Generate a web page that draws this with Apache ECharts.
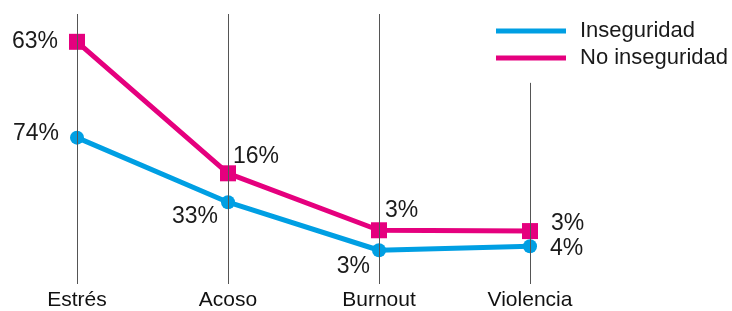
<!DOCTYPE html>
<html lang="es">
<head>
<meta charset="UTF-8">
<title>Inseguridad</title>
<script src="https://cdn.jsdelivr.net/npm/echarts@6/dist/echarts.min.js"></script>
<style>
  html, body { margin: 0; padding: 0; background: #fff; }
  #chart { width: 732px; height: 311px; }
</style>
</head>
<body>
<div id="chart"></div>
<script>
  // categorias y valores (posicion, escala 0-100)
  var categories = ['Estrés', 'Acoso', 'Burnout', 'Violencia'];
  var insegVals = [54.2, 30.3, 12.5, 14.0];
  var noInsegVals = [89.7, 41.0, 19.9, 19.6];
  // textos de las etiquetas
  var insegLabels = ['74%', '33%', '3%', '4%'];
  var noInsegLabels = ['63%', '16%', '3%', '3%'];
  // altura de las lineas verticales
  var guideTops = [100, 100, 100, 74.5];

  var insegPos = [
    { position: 'left', distance: 11, offset: [0, -4] },
    { position: 'left', distance: 3, offset: [0, 14] },
    { position: 'left', distance: 2, offset: [0, 16] },
    { position: 'right', distance: 13, offset: [0, 2] }
  ];
  var noInsegPos = [
    { position: 'left', distance: 11, offset: [0, 0] },
    { position: 'right', distance: 5, offset: [-8, -17] },
    { position: 'right', distance: 6, offset: [-8, -20] },
    { position: 'right', distance: 13, offset: [0, -7] }
  ];

  var font = "'Liberation Sans', Arial, sans-serif";
  var lblStyle = { show: true, fontSize: 23, color: '#1a1a1a', fontFamily: font };

  function build(vals, labels, pos) {
    return vals.map(function (v, i) {
      return {
        value: v,
        label: Object.assign({}, lblStyle, pos[i], { formatter: labels[i] })
      };
    });
  }

  var myChart = echarts.init(document.getElementById('chart'));
  var option = {
    animation: false,
    grid: { left: 77, right: 202, top: 14, bottom: 26 },
    legend: {
      orient: 'vertical',
      left: 491,
      top: 15,
      itemWidth: 70,
      itemHeight: 5,
      itemGap: 5,
      icon: 'rect',
      textStyle: { fontSize: 22, lineHeight: 22, color: '#1a1a1a', fontFamily: font, padding: [0, 0, 0, 9] },
      data: ['Inseguridad', 'No inseguridad']
    },
    xAxis: {
      type: 'category',
      data: categories,
      boundaryGap: false,
      axisLine: { show: false },
      axisTick: { show: false },
      axisLabel: { fontSize: 21, color: '#111', fontFamily: font, margin: 6 }
    },
    yAxis: {
      type: 'value',
      min: 0,
      max: 100,
      show: false
    },
    series: [
      {
        name: 'guides',
        type: 'line',
        data: [],
        silent: true,
        markLine: {
          silent: true,
          symbol: 'none',
          label: { show: false },
          lineStyle: { color: '#555', width: 1, type: 'solid' },
          data: categories.map(function (c, i) {
            return [{ coord: [c, guideTops[i]] }, { coord: [c, 0] }];
          })
        }
      },
      {
        name: 'Inseguridad',
        type: 'line',
        data: build(insegVals, insegLabels, insegPos),
        symbol: 'circle',
        symbolSize: 14,
        lineStyle: { width: 5, color: '#009FE3' },
        itemStyle: { color: '#009FE3' },
        z: 3
      },
      {
        name: 'No inseguridad',
        type: 'line',
        data: build(noInsegVals, noInsegLabels, noInsegPos),
        symbol: 'rect',
        symbolSize: 16,
        lineStyle: { width: 5, color: '#E5007E' },
        itemStyle: { color: '#E5007E' },
        z: 4
      }
    ]
  };
  myChart.setOption(option);
</script>
</body>
</html>
